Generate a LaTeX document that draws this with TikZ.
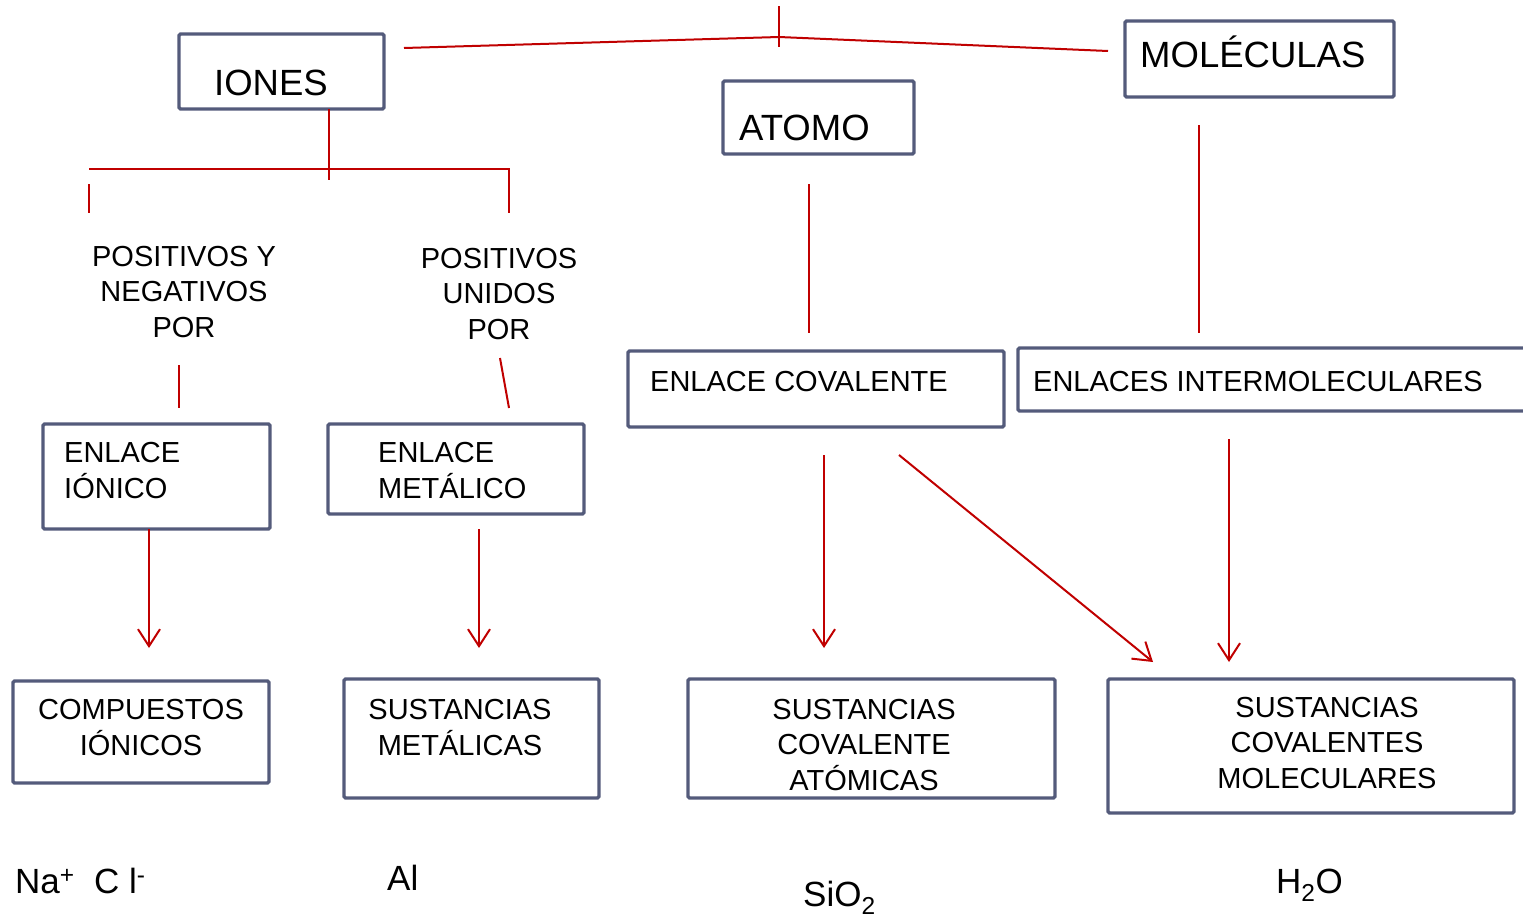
\documentclass[tikz,border=0pt]{standalone}
\usepackage{fontspec}
\setmainfont{Liberation Sans}
\usetikzlibrary{arrows.meta}
\definecolor{boxc}{HTML}{545B7B}
\definecolor{linkc}{HTML}{C00000}
\begin{document}
\begin{tikzpicture}[x=1pt,y=-1pt,
  box/.style={draw=boxc, line width=3.4pt, rounded corners=1.5pt, anchor=north west,
              inner sep=0pt, outer sep=0pt},
  link/.style={draw=linkc, line width=2pt},
  arr/.style={link, -{Straight Barb[length=17pt,width=22pt,line width=2pt]}},
  big/.style={inner sep=0pt, font=\fontsize{36.5}{44}\selectfont},
  lbl/.style={inner sep=0pt, align=center, font=\fontsize{29}{35.5}\selectfont},
  lbll/.style={inner sep=0pt, align=left, font=\fontsize{29}{35.5}\selectfont},
  chem/.style={inner sep=0pt, font=\fontsize{35}{42}\selectfont}]
\useasboundingbox (0,0) rectangle (1523,918);

% main boxes
\node[box, minimum width=205pt, minimum height=75pt] (iones) at (179,34) {};
\node[box, minimum width=191pt, minimum height=73pt] (atomo) at (723,81) {};
\node[box, minimum width=269pt, minimum height=76pt] (molec) at (1125,21) {};
\node[big, anchor=base west] (ionesT) at (214,95) {IONES};
\node[big, anchor=base west] (atomoT) at (739,140) {ATOMO};
\node[big, anchor=base west] (molecT) at (1140,67) {MOLÉCULAS};

% bond boxes (anchor base = baseline of the last line)
\node[box, minimum width=227pt, minimum height=105pt] (ionico) at (43,424) {};
\node[box, minimum width=256pt, minimum height=90pt] (metal) at (328,424) {};
\node[box, minimum width=376pt, minimum height=76pt] (coval) at (628,351) {};
\node[box, minimum width=520pt, minimum height=63pt] (inter) at (1018,348) {};
\node[lbll, anchor=base west] (ionicoT) at (64,498) {ENLACE\\IÓNICO};
\node[lbll, anchor=base west] (metalT) at (378,498) {ENLACE\\METÁLICO};
\node[lbll, anchor=base west] (covalT) at (650,391) {ENLACE COVALENTE};
\node[lbll, anchor=base west] (interT) at (1033,391) {ENLACES INTERMOLECULARES};

% substance boxes
\node[box, minimum width=256pt, minimum height=102pt] (compI) at (13,681) {};
\node[box, minimum width=255pt, minimum height=119pt] (sustM) at (344,679) {};
\node[box, minimum width=367pt, minimum height=119pt] (sustA) at (688,679) {};
\node[box, minimum width=406pt, minimum height=134pt] (sustC) at (1108,679) {};
\node[lbl, anchor=base] (compIT) at (141,755) {COMPUESTOS\\IÓNICOS};
\node[lbl, anchor=base] (sustMT) at (460,755) {SUSTANCIAS\\METÁLICAS};
\node[lbl, anchor=base] (sustAT) at (864,790) {SUSTANCIAS\\COVALENTE\\ATÓMICAS};
\node[lbl, anchor=base] (sustCT) at (1327,788) {SUSTANCIAS\\COVALENTES\\MOLECULARES};

% free-standing captions
\node[lbl, anchor=base] (posneg) at (184,337) {POSITIVOS Y\\NEGATIVOS\\POR};
\node[lbl, anchor=base] (posuni) at (499,339) {POSITIVOS\\UNIDOS\\POR};

% examples
\node[chem, anchor=base west] (exI) at (15,893) {Na\textsuperscript{+}\ \ C l\textsuperscript{-}};
\node[chem, anchor=base west] (exM) at (387,890) {Al};
\node[chem, anchor=base west] (exA) at (803,906) {SiO\textsubscript{2}};
\node[chem, anchor=base west] (exC) at (1276,893) {H\textsubscript{2}O};

% connector end points
\coordinate (topL) at (404,48);
\coordinate (topM) at (779,37);
\coordinate (topR) at (1108,51);
\coordinate (tickT) at (779,6);
\coordinate (tickB) at (779,47);
\coordinate (stemT) at (329,109);
\coordinate (stemB) at (329,180);
\coordinate (brL) at (89,169);
\coordinate (brR) at (509,169);
\coordinate (brRB) at (509,213);
\coordinate (legLT) at (89,184);
\coordinate (legLB) at (89,213);
\coordinate (pnT) at (179,365);
\coordinate (pnB) at (179,408);
\coordinate (puT) at (500,358);
\coordinate (puB) at (509,408);
\coordinate (atT) at (809,184);
\coordinate (atB) at (809,333);
\coordinate (moT) at (1199,125);
\coordinate (moB) at (1199,333);
\coordinate (a1s) at (149,529);
\coordinate (a1e) at (149,648);
\coordinate (a2s) at (479,529);
\coordinate (a2e) at (479,648);
\coordinate (a3s) at (824,455);
\coordinate (a3e) at (824,648);
\coordinate (a4s) at (899,455);
\coordinate (a4e) at (1153,662);
\coordinate (a5s) at (1229,439);
\coordinate (a5e) at (1229,662);

% plain links
\draw[link] (topL) -- (topM) -- (topR);
\draw[link, line width=1.5pt] (tickT) -- (tickB);
\draw[link] (stemT) -- (stemB);
\draw[link] (brL) -- (brR) -- (brRB);
\draw[link] (legLT) -- (legLB);
\draw[link] (pnT) -- (pnB);
\draw[link] (puT) -- (puB);
\draw[link] (atT) -- (atB);
\draw[link] (moT) -- (moB);

% arrows
\draw[arr] (a1s) -- (a1e);
\draw[arr] (a2s) -- (a2e);
\draw[arr] (a3s) -- (a3e);
\draw[arr] (a4s) -- (a4e);
\draw[arr] (a5s) -- (a5e);
\end{tikzpicture}
\end{document}
